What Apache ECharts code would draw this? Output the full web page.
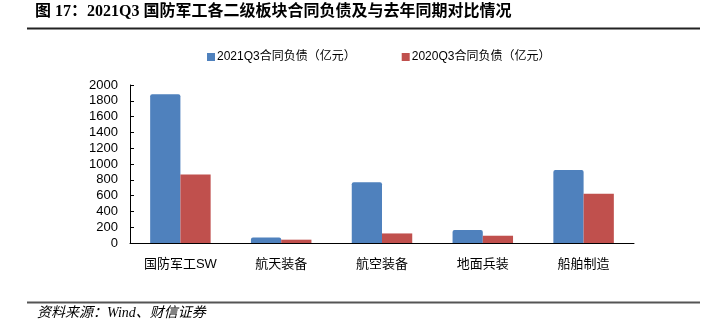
<!DOCTYPE html>
<html>
<head>
<meta charset="utf-8">
<script src="https://cdn.jsdelivr.net/npm/echarts@6/dist/echarts.min.js"></script>
<style>
html,body{margin:0;padding:0;background:#fff;}
#c{width:706px;height:334px;}
</style>
</head>
<body>
<div id="c"></div>
<script>
const categories = ['国防军工SW', '航天装备', '航空装备', '地面兵装', '船舶制造'];
const series2021 = [1883, 70, 769, 164, 924];
const series2020 = [868, 42, 121, 92, 625];
const seriesNames = ['2021Q3合同负债（亿元）', '2020Q3合同负债（亿元）'];
const yTicks = { min: 0, max: 2000, interval: 200 };
const titleText = '图 17：2021Q3 国防军工各二级板块合同负债及与去年同期对比情况';
const sourceText = '资料来源：Wind、财信证券';

const chart = echarts.init(document.getElementById('c'), null, { renderer: 'canvas' });
const sans = '"Liberation Sans", Arial, "Noto Sans CJK SC", sans-serif';
chart.setOption({
  animation: false,
  backgroundColor: '#fff',
  color: ['#4F81BD', '#C0504D'],
  legend: {
    left: 207, top: 51,
    itemWidth: 8, itemHeight: 8, itemGap: 46,
    icon: 'rect',
    padding: 0,
    textStyle: { fontSize: 12, color: '#000', fontFamily: sans, padding: [0, 0, 0, -3] },
    data: seriesNames
  },
  grid: { left: 130, right: 72, top: 85, bottom: 91, containLabel: false },
  xAxis: {
    type: 'category',
    data: categories,
    axisLine: { lineStyle: { color: '#000', width: 1 } },
    axisTick: { inside: true, length: 4, lineStyle: { color: '#000' } },
    axisLabel: { fontSize: 13, color: '#000', fontFamily: sans, margin: 15 }
  },
  yAxis: {
    type: 'value',
    min: yTicks.min, max: yTicks.max, interval: yTicks.interval,
    splitLine: { show: false },
    axisLine: { show: true, lineStyle: { color: '#000', width: 1 } },
    axisTick: { show: true, inside: true, length: 4, lineStyle: { color: '#000' } },
    axisLabel: { fontSize: 13, color: '#000', fontFamily: sans, margin: 12,
      formatter: function (v) { return String(v); } }
  },
  series: [
    { name: seriesNames[0], type: 'bar', data: series2021, barGap: '0%', barCategoryGap: '40%',
      itemStyle: { borderRadius: [2, 2, 0, 0] } },
    { name: seriesNames[1], type: 'bar', data: series2020, barGap: '0%', barCategoryGap: '40%' }
  ],
  graphic: [
    { type: 'text', left: 35, top: 4,
      style: { text: titleText, fontSize: 16, fontWeight: 'bold',
        fontFamily: '"Liberation Serif", "Noto Sans CJK SC", serif', fill: '#000' } },
    { type: 'rect', shape: { x: 27, y: 27.5, width: 673, height: 2 }, style: { fill: '#222' } },
    { type: 'rect', shape: { x: 27, y: 301.5, width: 673, height: 2 }, style: { fill: '#555' } },
    { type: 'text', left: 37, top: 306,
      style: { text: sourceText, fontSize: 14, fontStyle: 'italic',
        fontFamily: '"Liberation Serif", "Noto Sans CJK SC", serif', fill: '#000' } }
  ]
});
</script>
</body>
</html>
